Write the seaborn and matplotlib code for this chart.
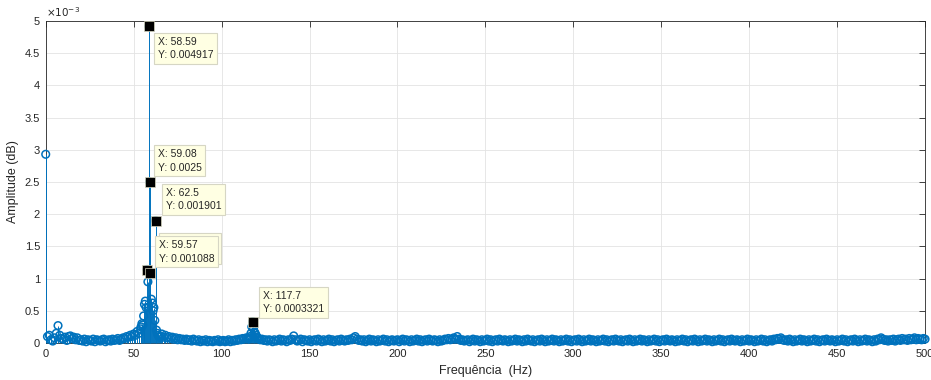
import numpy as np
import matplotlib
matplotlib.use("Agg")
import matplotlib.pyplot as plt
from matplotlib.ticker import FuncFormatter
import seaborn as sns

# FFT spectrum (amplitude in units of 1e-3), noise floor read every 1 Hz
floor_freq = np.arange(0, 501, 1.0)
floor_amp = [
    2.93, 0.10, 0.12, 0.05, 0.03, 0.08, 0.15, 0.27, 0.12, 0.07,
    0.06, 0.09, 0.04, 0.10, 0.11, 0.07, 0.09, 0.05, 0.08, 0.04,
    0.05, 0.03, 0.06, 0.02, 0.05, 0.04, 0.03, 0.06, 0.02, 0.05, 0.04, 0.03, 0.05, 0.06, 0.02, 0.04, 0.05, 0.03, 0.06, 0.04,
    0.05, 0.07, 0.04, 0.06, 0.08, 0.07, 0.10, 0.09, 0.12, 0.10, 0.14, 0.12, 0.18, 0.15, 0.22, 0.30, 0.50, 0.90, 0.90, 1.00,
    0.60, 0.50, 0.40, 1.90, 0.15, 0.10, 0.14, 0.09, 0.12, 0.08, 0.10, 0.07, 0.09, 0.06, 0.08, 0.05, 0.07, 0.05, 0.06, 0.04,
    0.06, 0.04, 0.05, 0.03, 0.06, 0.04, 0.03, 0.05, 0.02, 0.04, 0.03, 0.05, 0.02, 0.04, 0.03, 0.02, 0.04, 0.03, 0.05, 0.02,
    0.03, 0.04, 0.02, 0.03, 0.05, 0.02, 0.04, 0.03, 0.05, 0.04, 0.06, 0.05, 0.07, 0.06, 0.08, 0.07, 0.15, 0.30, 0.20, 0.15,
    0.10, 0.07, 0.05, 0.06, 0.04, 0.05, 0.03, 0.05, 0.04, 0.02, 0.05, 0.03, 0.04, 0.06, 0.03, 0.05, 0.04, 0.02, 0.05, 0.04,
    0.06, 0.11, 0.05, 0.03, 0.04, 0.06, 0.02, 0.05, 0.04, 0.03, 0.05, 0.02, 0.04, 0.05, 0.03, 0.06, 0.04, 0.02, 0.05, 0.03,
    0.04, 0.06, 0.03, 0.05, 0.02, 0.04, 0.05, 0.03, 0.06, 0.04, 0.03, 0.05, 0.04, 0.06, 0.05, 0.08, 0.10, 0.06, 0.04, 0.05,
    0.03, 0.05, 0.02, 0.04, 0.06, 0.03, 0.05, 0.04, 0.02, 0.05, 0.03, 0.04, 0.06, 0.03, 0.05, 0.02, 0.04, 0.05, 0.03, 0.04,
    0.05, 0.02, 0.04, 0.06, 0.03, 0.05, 0.04, 0.02, 0.05, 0.03, 0.04, 0.06, 0.03, 0.05, 0.02, 0.04, 0.05, 0.03, 0.06, 0.04,
    0.03, 0.05, 0.04, 0.02, 0.05, 0.03, 0.04, 0.06, 0.05, 0.07, 0.05, 0.06, 0.08, 0.06, 0.10, 0.06, 0.04, 0.05, 0.03, 0.04,
    0.05, 0.02, 0.04, 0.06, 0.03, 0.05, 0.04, 0.02, 0.05, 0.03, 0.04, 0.06, 0.03, 0.05, 0.02, 0.04, 0.05, 0.03, 0.06, 0.04,
    0.03, 0.05, 0.04, 0.02, 0.05, 0.03, 0.04, 0.06, 0.03, 0.05, 0.04, 0.02, 0.05, 0.03, 0.06, 0.04, 0.03, 0.05, 0.02, 0.04,
    0.05, 0.03, 0.06, 0.04, 0.02, 0.05, 0.03, 0.04, 0.06, 0.03, 0.05, 0.04, 0.02, 0.05, 0.03, 0.04, 0.06, 0.03, 0.05, 0.02,
    0.04, 0.05, 0.03, 0.06, 0.04, 0.02, 0.05, 0.03, 0.04, 0.06, 0.03, 0.05, 0.04, 0.02, 0.05, 0.03, 0.04, 0.06, 0.03, 0.05,
    0.02, 0.04, 0.05, 0.03, 0.06, 0.04, 0.03, 0.05, 0.02, 0.04, 0.05, 0.03, 0.06, 0.04, 0.02, 0.05, 0.03, 0.04, 0.06, 0.03,
    0.05, 0.04, 0.02, 0.05, 0.03, 0.04, 0.06, 0.03, 0.05, 0.02, 0.04, 0.05, 0.03, 0.06, 0.04, 0.03, 0.05, 0.04, 0.02, 0.05,
    0.03, 0.04, 0.06, 0.03, 0.05, 0.02, 0.04, 0.05, 0.03, 0.06, 0.04, 0.02, 0.05, 0.03, 0.04, 0.06, 0.03, 0.05, 0.04, 0.02,
    0.05, 0.03, 0.04, 0.06, 0.03, 0.05, 0.02, 0.04, 0.05, 0.03, 0.06, 0.04, 0.03, 0.05, 0.04, 0.02, 0.05, 0.03, 0.04, 0.06,
    0.03, 0.05, 0.04, 0.02, 0.05, 0.03, 0.04, 0.06, 0.03, 0.05, 0.02, 0.04, 0.05, 0.03, 0.06, 0.05, 0.07, 0.06, 0.08, 0.05,
    0.04, 0.05, 0.03, 0.06, 0.04, 0.02, 0.05, 0.03, 0.04, 0.06, 0.03, 0.05, 0.04, 0.02, 0.05, 0.03, 0.04, 0.06, 0.03, 0.05,
    0.02, 0.04, 0.05, 0.03, 0.06, 0.04, 0.03, 0.05, 0.04, 0.02, 0.05, 0.03, 0.04, 0.06, 0.03, 0.05, 0.02, 0.04, 0.05, 0.03,
    0.06, 0.04, 0.02, 0.05, 0.03, 0.04, 0.06, 0.03, 0.05, 0.04, 0.02, 0.05, 0.03, 0.06, 0.05, 0.08, 0.06, 0.04, 0.05, 0.03,
    0.05, 0.04, 0.06, 0.03, 0.05, 0.06, 0.04, 0.07, 0.05, 0.06, 0.04, 0.07, 0.05, 0.06, 0.08, 0.05, 0.07, 0.06, 0.05, 0.07,
    0.06,
]

# mains peak, full bin resolution
peak_freq = [54.20, 54.69, 55.18, 55.66, 56.15, 56.64, 57.13, 57.62, 58.11,
             58.59, 59.08, 59.57, 60.06, 60.55, 61.04, 61.52, 62.01, 62.50,
             62.99, 63.48, 63.96, 64.45, 64.94, 65.43]
peak_amp = [0.25, 0.30, 0.28, 0.42, 0.60, 0.65, 0.55, 1.141, 0.95,
            4.917, 2.5, 1.088, 0.68, 0.62, 0.50, 0.55, 0.35, 1.901,
            0.20, 0.15, 0.12, 0.10, 0.09, 0.10]

# second harmonic
harm_freq = [115.23, 115.72, 116.21, 116.70, 117.19, 117.68, 118.16,
             118.65, 119.14, 119.63, 120.12, 120.61]
harm_amp = [0.06, 0.08, 0.10, 0.15, 0.25, 0.3321, 0.22, 0.17, 0.15,
            0.12, 0.09, 0.07]

# data tips
tip_freq = [57.62, 58.59, 59.08, 62.50, 59.57, 117.68]
tip_amp = [1.141, 4.917, 2.5, 1.901, 1.088, 0.3321]
tip_offset = [(12, 6), (6, -7), (5, 6), (7, 6), (5, 6), (7, 4)]

blue = "#0072BD"
grey = "#262626"

assert len(floor_amp) == len(floor_freq)
keep = ~((floor_freq > 54) & (floor_freq < 66)) & ~((floor_freq > 115) & (floor_freq < 121))
freq = np.concatenate([floor_freq[keep], peak_freq, harm_freq])
amp = np.concatenate([np.array(floor_amp)[keep], peak_amp, harm_amp]) * 1e-3

sns.set_theme(style="whitegrid")
plt.rcParams["font.family"] = ["Liberation Sans", "DejaVu Sans"]

fig = plt.figure(figsize=(9.31, 3.80), dpi=100)
ax = fig.add_axes([0.0491, 0.0974, 0.9445, 0.8474])
ax.set_facecolor("white")

ax.vlines(freq, 0, amp, color=blue, linewidth=0.7, zorder=3, clip_on=False)
sns.scatterplot(x=freq, y=amp, ax=ax, marker="o", s=30, linewidth=1.1,
                facecolor="none", edgecolor=blue, zorder=4, clip_on=False)
for coll in ax.collections[1:]:
    coll.set_facecolor("none")
    coll.set_edgecolor(blue)

# data tip markers and boxes
for f, a, (dx, dy) in zip(tip_freq, tip_amp, tip_offset):
    y = a * 1e-3
    ax.plot(f, y, marker="s", markersize=6.5, color="black",
            markeredgecolor="#d8d8c0", markeredgewidth=0.5, zorder=5, clip_on=False)
    pad = 3.3
    if dy < 0:
        off, va = (dx + pad, dy - pad), "top"
    else:
        off, va = (dx + pad, dy + pad), "bottom"
    ax.annotate(f"X: {f:.4g}\nY: {y:.4g}", xy=(f, y), xytext=off,
                textcoords="offset pixels", ha="left", va=va,
                fontsize=7.5, color=grey, linespacing=1.45, zorder=6,
                bbox=dict(boxstyle="square,pad=0.35", fc="#ffffe3",
                          ec="#d6d6c4", lw=0.8))

ax.set_xlim(0, 500)
ax.set_ylim(0, 5e-3)
ax.set_xticks(np.arange(0, 501, 50))
ax.set_yticks(np.arange(0, 5.01e-3, 0.5e-3))
ax.yaxis.set_major_formatter(FuncFormatter(lambda v, p: f"{v * 1e3:g}"))
ax.text(0, 1.006, r"$\times10^{-3}$", transform=ax.transAxes, ha="left",
        va="bottom", fontsize=7.5, color=grey)

ax.grid(True, color="#e3e3e3", linewidth=0.6)
ax.tick_params(direction="in", length=4, width=0.6, colors=grey,
               labelsize=8, top=True, right=True, pad=4)
for s in ax.spines.values():
    s.set_color(grey)
    s.set_linewidth(0.6)

ax.set_xlabel("Frequência  (Hz)", fontsize=9, color=grey, labelpad=5)
ax.set_ylabel("Amplitude (dB)", fontsize=9, color=grey, labelpad=4)

fig.savefig("out.png", dpi=100)
